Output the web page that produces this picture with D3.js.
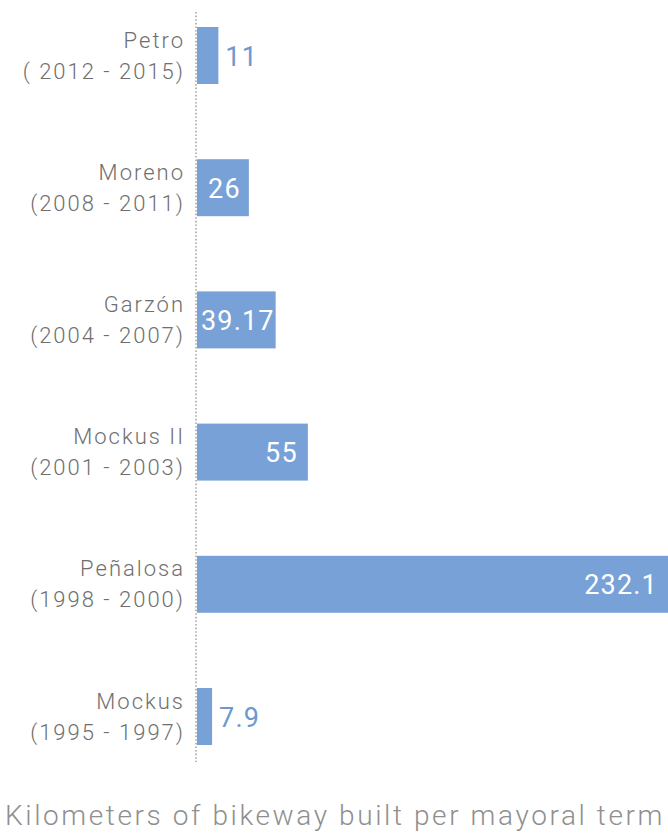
<!DOCTYPE html>
<html>
<head>
<meta charset="utf-8">
<script src="https://cdn.jsdelivr.net/npm/d3@7"></script>
<style>
  html, body { margin: 0; padding: 0; background: #ffffff; }
  svg { display: block; }
  text { font-family: Roboto, "Noto Sans", sans-serif; }
</style>
</head>
<body>
<script>
// Bikeway kilometres built in Bogotá, by mayoral term (newest at top)
const mayors = ["Petro", "Moreno", "Garzón", "Mockus II", "Peñalosa", "Mockus"];
const terms = ["( 2012 - 2015)", "(2008 - 2011)", "(2004 - 2007)", "(2001 - 2003)", "(1998 - 2000)", "(1995 - 1997)"];
const km = [11, 26, 39.17, 55, 232.1, 7.9];
const valueLabels = ["11", "26", "39.17", "55", "232.1", "7.9"];
const title = "Kilometers of bikeway built per mayoral term";

const width = 668, height = 838;
const left = 196, right = 668;

const svg = d3.select("body").append("svg")
  .attr("width", width)
  .attr("height", height);

const x = d3.scaleLinear().domain([0, 232.1]).range([left, right]);

// band layout: step ~132px, bar thickness ~57px, first bar top at 27
const step = 132.2, barH = 57;
const y = d3.scaleBand().domain(mayors)
  .range([27 - (step - barH) / 2, 27 - (step - barH) / 2 + step * mayors.length])
  .paddingInner(1 - barH / step)
  .paddingOuter((1 - barH / step) / 2);

// dotted baseline
svg.append("line")
  .attr("x1", x(0)).attr("x2", x(0))
  .attr("y1", 12).attr("y2", 762)
  .attr("stroke", "#a9a9a9")
  .attr("stroke-width", 1.6)
  .attr("stroke-dasharray", "1.6,2");

const rows = mayors.map((m, i) => ({ m, term: terms[i], v: km[i], label: valueLabels[i] }));

// bars
svg.selectAll("rect.bar").data(rows).join("rect")
  .attr("class", "bar")
  .attr("x", x(0) + 1)
  .attr("y", d => y(d.m))
  .attr("width", d => x(d.v) - x(0) - 1)
  .attr("height", y.bandwidth())
  .attr("fill", "#78a2d7");

// category labels, two lines each
const cat = svg.selectAll("g.cat").data(rows).join("g").attr("class", "cat");
cat.append("text")
  .attr("x", 185)
  .attr("y", d => y(d.m) + y.bandwidth() / 2 - 8)
  .attr("text-anchor", "end")
  .attr("font-size", 22)
  .attr("font-weight", 300)
  .attr("letter-spacing", 2)
  .attr("fill", "#6f6f6f")
  .text(d => d.m);
cat.append("text")
  .attr("x", 185)
  .attr("y", d => y(d.m) + y.bandwidth() / 2 + 23)
  .attr("text-anchor", "end")
  .attr("font-size", 22)
  .attr("font-weight", 300)
  .attr("letter-spacing", 2)
  .attr("fill", "#6f6f6f")
  .text(d => d.term);

// value labels: outside for short bars, inside (white) otherwise
svg.selectAll("text.val").data(rows).join("text")
  .attr("class", "val")
  .attr("font-size", 27)
  .attr("letter-spacing", 1.2)
  .attr("y", d => y(d.m) + y.bandwidth() / 2 + 10)
  .each(function (d) {
    const w = x(d.v) - x(0);
    const t = d3.select(this);
    if (w < 40) {
      t.attr("x", x(d.v) + 7).attr("text-anchor", "start").attr("fill", "#6e98d0");
    } else if (w < 100) {
      t.attr("x", (x(0) + x(d.v)) / 2 + 2).attr("text-anchor", "middle").attr("fill", "#ffffff");
    } else {
      t.attr("x", x(d.v) - 10).attr("text-anchor", "end").attr("fill", "#ffffff");
    }
  })
  .text(d => d.label);

// caption
svg.append("text")
  .attr("x", 5)
  .attr("y", 825)
  .attr("font-size", 28)
  .attr("font-weight", 300)
  .attr("letter-spacing", 2.6)
  .attr("fill", "#8f8f8f")
  .text(title);
</script>
</body>
</html>
